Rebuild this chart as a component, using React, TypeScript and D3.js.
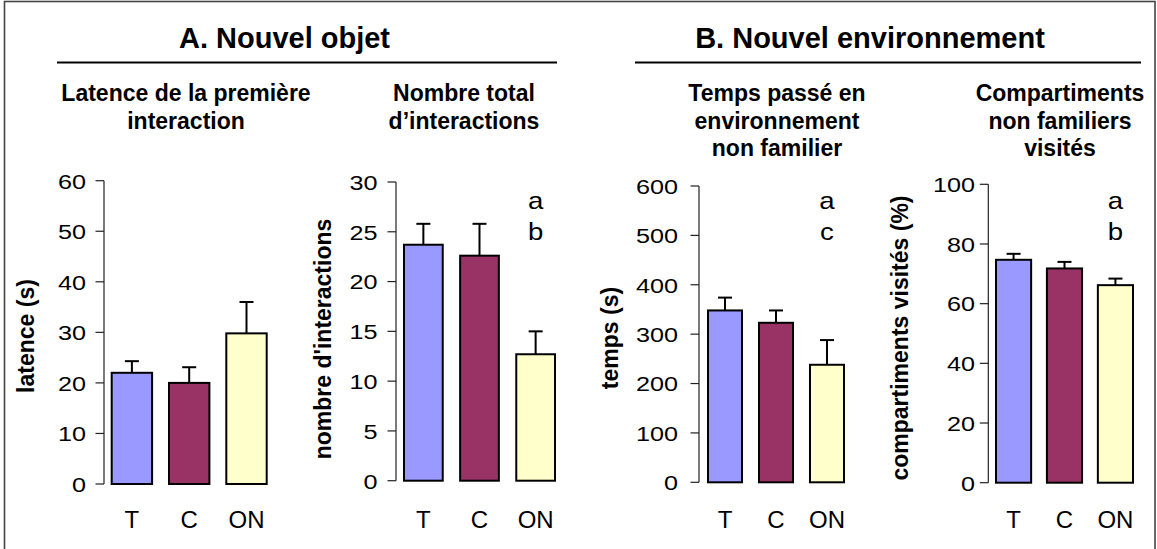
import React from "react";
import * as d3 from "d3";

// Groups shown on every chart
const categories = ["T", "C", "ON"];
const barColors = ["#9999FF", "#993366", "#FFFFCC"];

// A. Nouvel objet
const latenceMeans = [22.0, 20.0, 29.8];
const latenceSem = [2.3, 3.1, 6.2];
const latenceTicks = [0, 10, 20, 30, 40, 50, 60];

const interactionsMeans = [23.7, 22.6, 12.7];
const interactionsSem = [2.1, 3.2, 2.3];
const interactionsTicks = [0, 5, 10, 15, 20, 25, 30];

// B. Nouvel environnement
const tempsMeans = [348, 323, 238];
const tempsSem = [26, 25, 50];
const tempsTicks = [0, 100, 200, 300, 400, 500, 600];

const compartimentsMeans = [74.7, 71.8, 66.2];
const compartimentsSem = [2.0, 2.2, 2.2];
const compartimentsTicks = [0, 20, 40, 60, 80, 100];

const FONT = "'Liberation Sans', Arial, Helvetica, sans-serif";

type Panel = {
  title: string[];
  titleX: number;
  yLabel: string;
  yLabelX: number;
  yLabelY: number;
  means: number[];
  sem: number[];
  ticks: number[];
  axisX: number;
  y0: number;
  yTop: number;
  barsLeft: number;
  barsRight: number;
  padding: number;
  tickLabelRight: number;
  letters: string[];
};

const panels: Panel[] = [
  {
    title: ["Latence de la première", "interaction"],
    titleX: 186,
    yLabel: "latence (s)",
    yLabelX: 34,
    yLabelY: 336,
    means: latenceMeans,
    sem: latenceSem,
    ticks: latenceTicks,
    axisX: 104,
    y0: 484,
    yTop: 180.7,
    barsLeft: 111.7,
    barsRight: 266.7,
    padding: 0.295,
    tickLabelRight: 86,
    letters: [],
  },
  {
    title: ["Nombre total", "d\u2019interactions"],
    titleX: 464,
    yLabel: "nombre d'interactions",
    yLabelX: 331,
    yLabelY: 339,
    means: interactionsMeans,
    sem: interactionsSem,
    ticks: interactionsTicks,
    axisX: 396,
    y0: 480.7,
    yTop: 182,
    barsLeft: 404,
    barsRight: 555,
    padding: 0.31,
    tickLabelRight: 377.5,
    letters: ["a", "b"],
  },
  {
    title: ["Temps passé en", "environnement", "non familier"],
    titleX: 777,
    yLabel: "temps (s)",
    yLabelX: 618,
    yLabelY: 338,
    means: tempsMeans,
    sem: tempsSem,
    ticks: tempsTicks,
    axisX: 699,
    y0: 482.3,
    yTop: 186,
    barsLeft: 708,
    barsRight: 844,
    padding: 0.333,
    tickLabelRight: 678,
    letters: ["a", "c"],
  },
  {
    title: ["Compartiments", "non familiers", "visités"],
    titleX: 1060,
    yLabel: "compartiments visités (%)",
    yLabelX: 908,
    yLabelY: 338,
    means: compartimentsMeans,
    sem: compartimentsSem,
    ticks: compartimentsTicks,
    axisX: 988.3,
    y0: 482.7,
    yTop: 184.3,
    barsLeft: 996,
    barsRight: 1133,
    padding: 0.31,
    tickLabelRight: 975,
    letters: ["a", "b"],
  },
];

function BarPanel({ p }: { p: Panel }) {
  const maxTick = p.ticks[p.ticks.length - 1];
  const y = d3.scaleLinear().domain([0, maxTick]).range([p.y0, p.yTop]);
  const x = d3
    .scaleBand<string>()
    .domain(categories)
    .range([p.barsLeft, p.barsRight])
    .paddingInner(p.padding)
    .paddingOuter(0);
  const bw = x.bandwidth();
  const capHalf = 7;
  const onCenter = (x("ON") as number) + bw / 2;

  return (
    <g>
      {/* subtitle */}
      {p.title.map((line, i) => (
        <text
          key={"t" + i}
          x={p.titleX}
          y={101 + i * 27.5}
          textAnchor="middle"
          fontFamily={FONT}
          fontWeight="bold"
          fontSize={23}
          fill="#000"
        >
          {line}
        </text>
      ))}

      {/* y axis */}
      <line
        x1={p.axisX}
        x2={p.axisX}
        y1={y(0)}
        y2={y(maxTick)}
        stroke="#222"
        strokeWidth={1.2}
      />
      {p.ticks.map((t) => (
        <g key={"k" + t}>
          <line
            x1={p.axisX - 8.5}
            x2={p.axisX}
            y1={y(t)}
            y2={y(t)}
            stroke="#222"
            strokeWidth={1.2}
          />
          <text
            transform={`translate(${p.tickLabelRight},${y(t) + 7.8}) scale(1.2,1)`}
            textAnchor="end"
            fontFamily={FONT}
            fontSize={21}
            fill="#000"
          >
            {t}
          </text>
        </g>
      ))}

      {/* y axis title */}
      <text
        transform={`translate(${p.yLabelX},${p.yLabelY}) rotate(-90)`}
        textAnchor="middle"
        fontFamily={FONT}
        fontWeight="bold"
        fontSize={23}
        fill="#000"
      >
        {p.yLabel}
      </text>

      {/* bars */}
      {categories.map((c, i) => (
        <rect
          key={"b" + c}
          x={x(c)}
          y={y(p.means[i])}
          width={bw}
          height={y(0) - y(p.means[i])}
          fill={barColors[i]}
          stroke="#000"
          strokeWidth={2}
        />
      ))}

      {/* error bars (upper half) */}
      {categories.map((c, i) => {
        const cx = (x(c) as number) + bw / 2;
        const top = y(p.means[i] + p.sem[i]);
        return (
          <g key={"e" + c} stroke="#000" strokeWidth={2}>
            <line x1={cx} x2={cx} y1={y(p.means[i])} y2={top} />
            <line x1={cx - capHalf} x2={cx + capHalf} y1={top} y2={top} />
          </g>
        );
      })}

      {/* category labels */}
      {categories.map((c) => (
        <text
          key={"c" + c}
          x={(x(c) as number) + bw / 2}
          y={528}
          textAnchor="middle"
          fontFamily={FONT}
          fontSize={24}
          fill="#000"
        >
          {c}
        </text>
      ))}

      {/* significance letters */}
      {p.letters.map((l, i) => (
        <text
          key={"l" + i}
          transform={`translate(${onCenter},${209 + i * 31}) scale(1.15,1)`}
          textAnchor="middle"
          fontFamily={FONT}
          fontSize={24}
          fill="#000"
        >
          {l}
        </text>
      ))}
    </g>
  );
}

export default function App() {
  return (
    <svg
      width={1157}
      height={549}
      style={{ position: "absolute", left: 0, top: 0, background: "#fff" }}
    >
      <rect x={0} y={0} width={1157} height={549} fill="#fff" />
      {/* outer frame */}
      <rect
        x={4.5}
        y={1.5}
        width={1150.5}
        height={550}
        fill="none"
        stroke="#444"
        strokeWidth={1.6}
      />

      {/* section headings */}
      <text
        x={284.5}
        y={48.3}
        textAnchor="middle"
        fontFamily={FONT}
        fontWeight="bold"
        fontSize={29}
        fill="#000"
      >
        A. Nouvel objet
      </text>
      <line x1={57} x2={557} y1={62.5} y2={62.5} stroke="#000" strokeWidth={2} />

      <text
        x={870}
        y={48.3}
        textAnchor="middle"
        fontFamily={FONT}
        fontWeight="bold"
        fontSize={29}
        fill="#000"
      >
        B. Nouvel environnement
      </text>
      <line x1={635} x2={1141} y1={62.5} y2={62.5} stroke="#000" strokeWidth={2} />

      {panels.map((p, i) => (
        <BarPanel key={i} p={p} />
      ))}
    </svg>
  );
}
